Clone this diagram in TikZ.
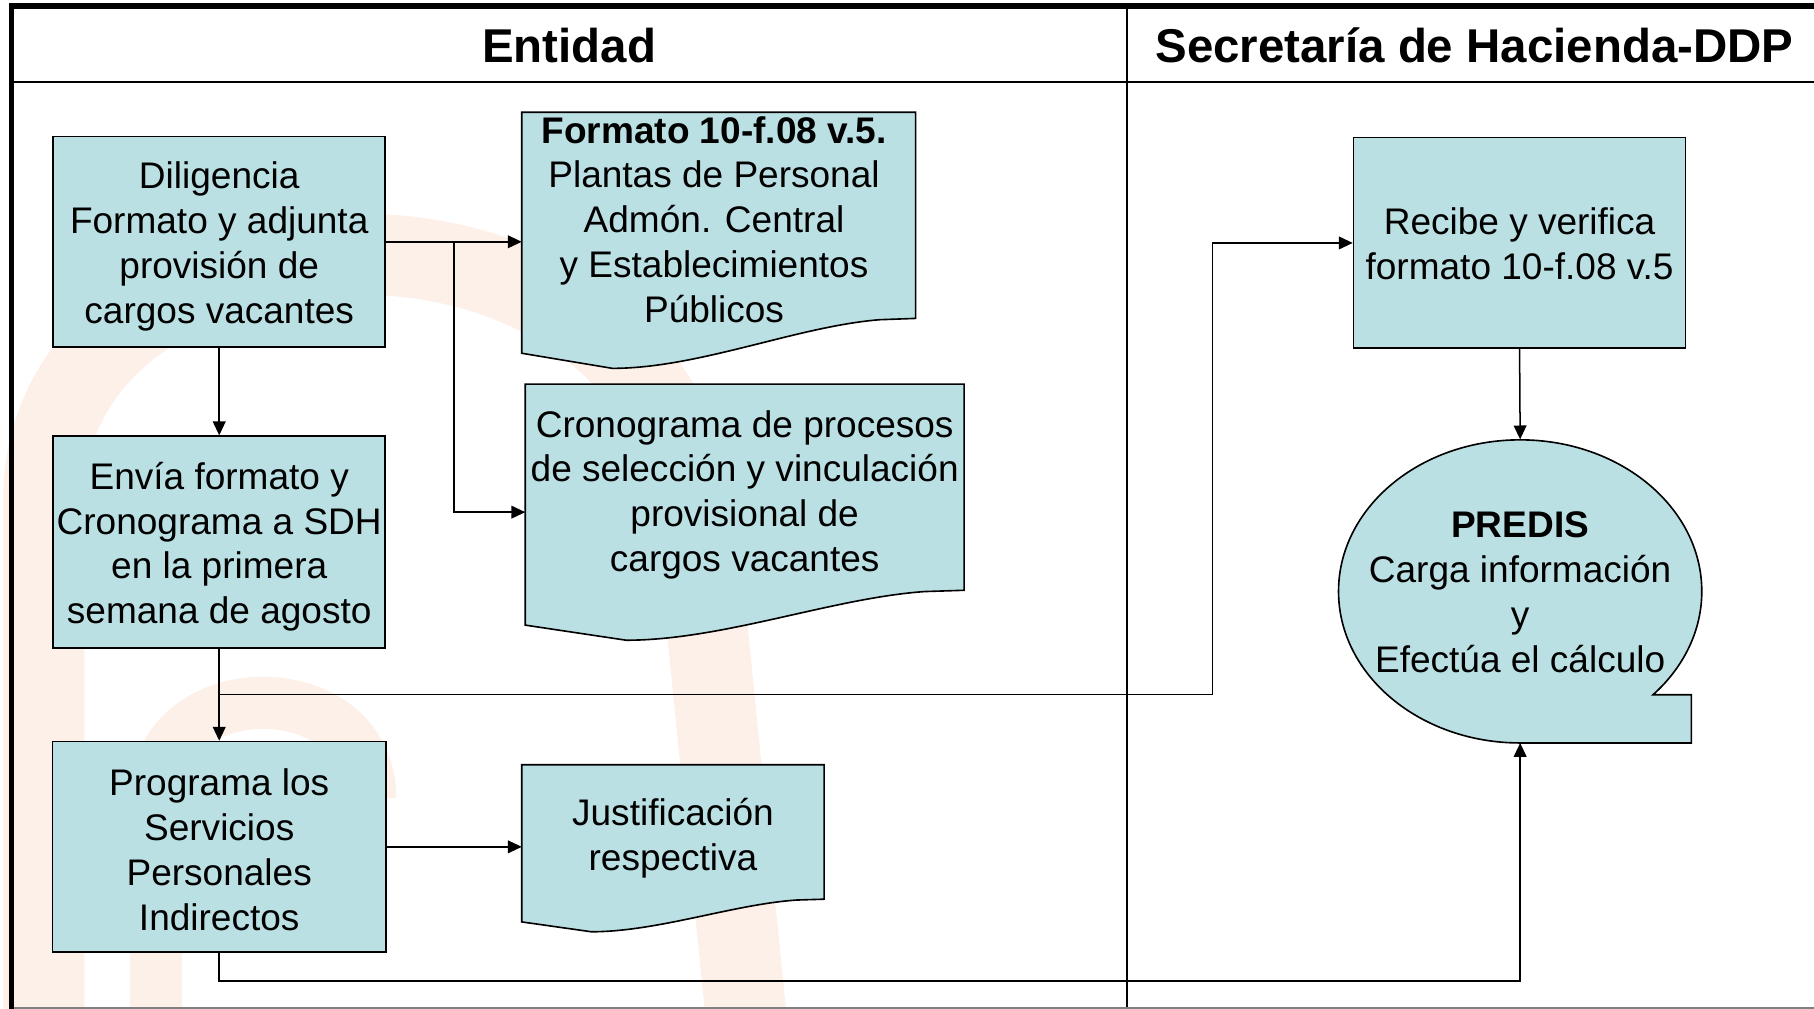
\documentclass[tikz,border=0pt]{standalone}
\usepackage{fontspec}
\setmainfont{Liberation Sans}
\usetikzlibrary{arrows.meta,calc,shapes.geometric}
\definecolor{boxfill}{RGB}{187,224,227}
\definecolor{peach}{RGB}{253,240,233}
\newcommand\bodyfont{\fontsize{32}{38.75}\selectfont}
\newcommand\headfont{\fontsize{41}{48}\selectfont\bfseries}
\tikzset{
  proc/.style={draw=black, line width=1.4pt, fill=boxfill, rectangle, inner sep=0pt},
  docnode/.style={rectangle, draw=none, inner sep=0pt, anchor=north west},
  docshape/.style={draw=black, line width=1.4pt, fill=boxfill, line join=miter},
  txt/.style={align=center, inner sep=0pt, font=\bodyfont},
  conn/.style={line width=1.3pt, draw=black},
  arr/.style={conn, -{Triangle[length=12pt,width=11pt]}},
  lane/.style={line width=2pt, draw=black},
  frameline/.style={line width=5pt, draw=black, line join=miter},
  head/.style={font=\headfont, anchor=base, inner sep=0pt},
}
\newcommand\drawdoc[1]{%
  \path[docshape] let \p1=(#1.north west), \p2=(#1.south east),
      \n1={\x2-\x1}, \n2={\y1-\y2} in
    (\x1,\y1) -- (\x2,\y1) -- (\x2,\y2+0.195*\n2*1pt)
    -- (\x2-0.09*\n1*1pt,\y2+0.19*\n2*1pt)
    .. controls (\x2-0.3*\n1*1pt,\y2+0.165*\n2*1pt) and (\x1+0.45*\n1*1pt,\y2) .. (\x1+0.23*\n1*1pt,\y2)
    -- (\x1,\y2+0.059*\n2*1pt) -- cycle;}
\begin{document}
\begin{tikzpicture}[x=1pt,y=-1pt]
\useasboundingbox (0,0) rectangle (1568,872);
\fill[white] (0,0) rectangle (1568,872);
% watermark
\draw[peach, line width=70pt] (38,880) -- (38,430) .. controls (38,170) and (540,130) .. (600,430) -- (645,880);
\draw[peach, line width=45pt] (135,880) -- (135,690) .. controls (135,580) and (320,580) .. (320,690);
% lanes
\draw[lane] (10,71) -- (1568,71);
\draw[lane] (974,5) -- (974,872);
\draw[gray, line width=1.5pt] (10,871) -- (1568,871);
\draw[frameline] (10,872) -- (10,5) -- (1568,5);
\node[head] (hEnt) at (492,54) {Entidad};
\node[head] (hSec) at (1274.5,54) {Secretaría de Hacienda-DDP};
% process boxes
\node[proc, minimum width=287pt, minimum height=182pt] (dil) at (189.5,209) {};
\node[proc, minimum width=287pt, minimum height=183pt] (env) at (189.5,468.5) {};
\node[proc, minimum width=288pt, minimum height=182pt] (prg) at (189.5,732) {};
\node[proc, minimum width=287pt, minimum height=182pt] (rec) at (1313.5,210) {};
\node[txt] (tdil) at ([yshift=-4pt]dil.center) {Diligencia\\Formato y adjunta\\provisión de\\cargos vacantes};
\node[txt] (tenv) at ([yshift=-4pt]env.center) {Envía formato y\\Cronograma a SDH\\en la primera\\semana de agosto};
\node[txt] (tprg) at ([yshift=-2.5pt]prg.center) {Programa los\\Servicios\\Personales\\Indirectos};
\node[txt] (trec) at ([yshift=-1pt]rec.center) {Recibe y verifica\\formato 10-f.08 v.5};
% documents
\node[docnode, minimum width=340pt, minimum height=221pt] (fmt) at (451,97) {};
\node[docnode, minimum width=379pt, minimum height=221pt] (cro) at (454,332) {};
\node[docnode, minimum width=261pt, minimum height=144pt] (jus) at (451,661) {};
\drawdoc{fmt}
\drawdoc{cro}
\drawdoc{jus}
\node[txt] (tfmt) at ([xshift=-4pt,yshift=18pt]fmt.center) {\textbf{Formato 10-f.08 v.5.}\\Plantas de Personal\\Admón. Central\\y Establecimientos\\Públicos};
\node[txt] (tcro) at ([yshift=15pt]cro.center) {Cronograma de procesos\\de selección y vinculación\\provisional de\\cargos vacantes};
\node[txt] (tjus) at ([yshift=8.5pt]jus.center) {Justificación\\respectiva};
% PREDIS storage
\node[ellipse, draw=none, minimum width=314pt, minimum height=262pt, inner sep=0pt] (predis) at (1314,511) {};
\draw[docshape] (predis.south) arc[start angle=-90, end angle=-403, x radius=157pt, y radius=131pt] -| ($(predis.south)+(148,0)$) -- cycle;
\node[txt] (tpre) at ([yshift=-1pt]predis.center) {\textbf{PREDIS}\\Carga información\\y\\Efectúa el cálculo};
% connectors
\draw[arr] (dil.east) -- (dil.east -| fmt.west);
\coordinate (b1) at ($(dil.east)!0.5!(dil.east -| fmt.west)$);
\draw[arr] (b1) |- (cro.west);
\draw[arr] (dil.south) -- (env.north);
\draw[arr] (env.south) -- (prg.north);
\coordinate (b2) at ($(env.south)!0.5!(prg.north)$);
\coordinate (jx) at (1048,601);
\draw[arr] (b2) -- (b2 -| jx) |- (rec.west);
\draw[arr] (prg.east) -- (prg.east -| jus.west);
\coordinate (by) at (190,848);
\draw[arr] (prg.south) |- (by -| predis.south) -- (predis.south);
\draw[arr] (rec.south) -- (predis.north);
\end{tikzpicture}
\end{document}
